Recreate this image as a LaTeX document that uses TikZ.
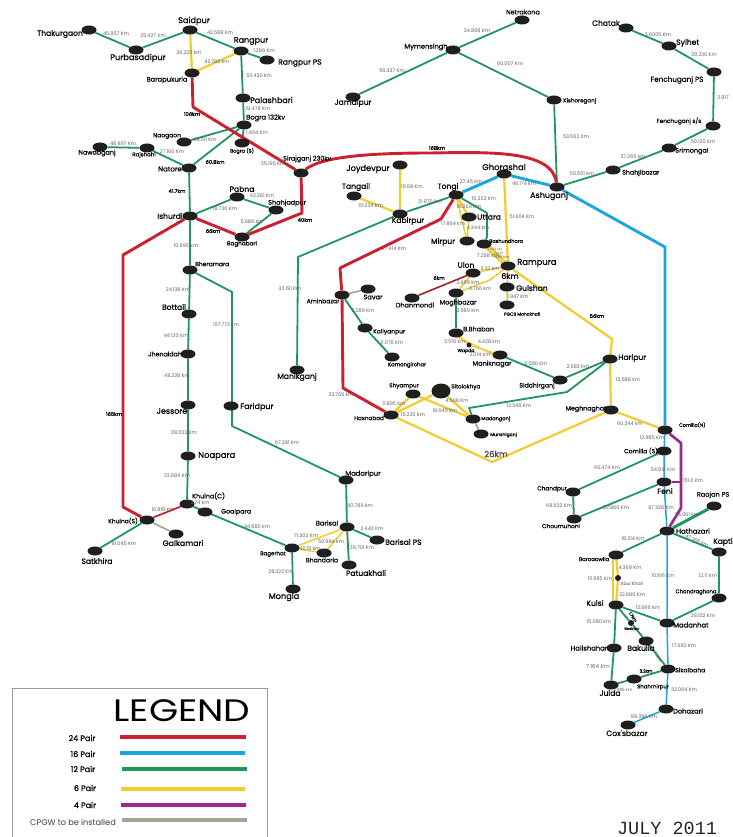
\documentclass[tikz,border=0pt]{standalone}
\usepackage{fontspec}
\setmainfont{Poppins}
\newfontfamily\lblfont[FakeBold=0.6]{Poppins}
\newfontfamily\kmbold[FakeBold=0.8]{Poppins}
\newfontfamily\julyfont{Liberation Mono}
\usetikzlibrary{shapes.geometric,backgrounds}
\tikzset{
  dotn/.style={ellipse,fill=black!88,inner sep=0pt,minimum width=15pt,minimum height=9pt},
  stnlabel/.style={inner sep=0pt,text=black,font=\lblfont},
  kmlabel/.style={inner sep=0pt,text=black!62,font=\fontsize{5}{6}\selectfont},
  kmb/.style={inner sep=0pt,text=black,font=\kmbold\fontsize{5.2}{6}\selectfont},
  redl/.style={draw=cred,line width=2.9pt,line join=round},
  redt/.style={draw=cred,line width=1.7pt},
  bluel/.style={draw=cblue,line width=2.9pt,line join=round},
  bluet/.style={draw=cblue,line width=1.5pt,line join=round},
  greenl/.style={draw=cgreen,line width=1.8pt,line join=round},
  yell/.style={draw=cyel,line width=2.2pt,line join=round},
  yelt/.style={draw=cyel,line width=1.5pt,line join=round},
  purl/.style={draw=cpur,line width=2.7pt,line join=round},
  grayl/.style={draw=cgray,line width=1.6pt},
  legline/.style={line width=4pt},
  legtext/.style={inner sep=0pt,font=\lblfont\fontsize{8}{9}\selectfont}
}
\definecolor{cred}{HTML}{CC2030}
\definecolor{cblue}{HTML}{1CA4DC}
\definecolor{cgreen}{HTML}{1F9660}
\definecolor{cyel}{HTML}{F2CC2C}
\definecolor{cpur}{HTML}{9A2A88}
\definecolor{cgray}{HTML}{A8A494}
% [size], id, x, y, text, anchor, lx, ly
\newcommand{\stn}[8][7.6]{%
  \node[dotn] (#2) at (#3,#4) {};
  \node[stnlabel,anchor=#6] (#2-l) at (#7,#8) {\fontsize{#1}{#1}\selectfont #5};
}
\newcommand{\km}[3]{\node[kmlabel] at (#1,#2) {#3};}
\newcommand{\kb}[3]{\node[kmb] at (#1,#2) {#3};}
\begin{document}
\begin{tikzpicture}[x=1pt,y=-1pt]
\useasboundingbox (0,0) rectangle (732,837);
\stn{thak}{89}{30}{Thakurgaon}{center}{60}{34}
\stn[8.2]{purb}{136}{50}{Purbasadipur}{center}{138}{58}
\stn[8.2]{said}{190}{30}{Saidpur}{center}{194}{21}
\stn[8]{rang}{241}{51}{Rangpur}{center}{251}{41}
\stn{rangps}{267}{60}{Rangpur PS}{west}{278}{63}
\stn[6.7]{bara}{192}{73}{Barapukuria}{center}{167}{80}
\stn[8]{pala}{243}{98}{Palashbari}{west}{250}{100}
\stn[6.7]{bog}{244}{125}{Bogra 132kv}{west}{246}{118}
\stn[5]{bogs}{242}{143}{Bogra (S)}{center}{242}{151}
\stn[6]{naog}{184}{142}{Naogaon}{center}{167}{136}
\stn[5.5]{rajs}{147}{148}{Rajshahi}{center}{144}{155}
\stn[6.4]{nawa}{100}{147}{Nawabganj}{center}{97}{153}
\stn[7]{nato}{189}{168}{Natore}{center}{170}{169}
\stn[6.4]{sira}{301}{173}{Sirajganj 230kv}{west}{283}{159}
\stn{pabn}{237}{197}{Pabna}{center}{242}{189}
\stn[6.5]{shah}{276}{210}{Shahjadpur}{west}{268}{203}
\stn{ishu}{190}{216}{Ishurdi}{center}{170}{216}
\stn[5.7]{bagh}{242}{237}{Baghabari}{center}{242}{244}
\stn[6]{bher}{190}{270}{Bheramara}{west}{195}{264}
\stn{bott}{189}{314}{Bottail}{center}{174}{307}
\stn[6.3]{jhen}{188}{354}{Jhenaidah}{center}{165}{354}
\stn[8]{jess}{188}{405}{Jessore}{center}{172}{411}
\stn[8]{fari}{231}{406}{Faridpur}{west}{240}{407}
\stn[8.4]{noap}{188}{456}{Noapara}{west}{198}{456}
\stn[6.4]{khuc}{187}{504}{Khulna(C)}{west}{192}{496}
\stn[6.3]{goal}{205}{512}{Goalpara}{west}{221}{512}
\stn[6]{khus}{147}{520}{Khulna(S)}{center}{123}{521}
\stn[7.8]{galk}{176}{534}{Galkamari}{center}{183}{543}
\stn{satk}{95}{551}{Satkhira}{center}{97}{561}
\stn[5.5]{bage}{292}{548}{Bagerhat}{center}{273}{554}
\stn[8.2]{mong}{293}{589}{Mongla}{center}{284}{597}
\stn[6.7]{bari}{347}{527}{Barisal}{center}{327}{523}
\stn{barips}{377}{540}{Barisal PS}{west}{385}{542}
\stn{patu}{349}{565}{Patuakhali}{center}{366}{573}
\stn[6.2]{bhan}{324}{553}{Bhandaria}{center}{322}{560}
\stn[6.8]{mada}{346}{480}{Madaripur}{center}{363}{474}
\stn{mani}{297}{370}{Manikganj}{center}{297}{377}
\stn[6]{amin}{342}{295}{Aminbazar}{center}{323}{301}
\stn[6.6]{sava}{368}{289}{Savar}{center}{373}{297}
\stn[6]{kall}{365}{328}{Kallyanpur}{west}{373}{332}
\stn[5.3]{kamo}{392}{357}{Kamongirchar}{center}{407}{365}
\stn[6.5]{dhan}{412}{298}{Dhanmondi}{center}{415}{305}
\stn{ulon}{473}{273}{Ulon}{center}{466}{265}
\stn[6.5]{mogh}{456}{293}{Moghbazar}{center}{458}{303}
\stn[6.5]{bbha}{456}{333}{B.Bhaban}{west}{463}{329}
\stn[6.5]{mank}{500}{355}{Maniknagar}{center}{492}{364}
\stn[6.2]{sidd}{560}{380}{Siddhirganj}{center}{537}{386}
\stn{hari}{610}{359}{Haripur}{west}{618}{358}
\stn[6.3]{megh}{611}{410}{Meghnaghat}{center}{586}{409}
\stn[5.7]{shya}{413}{394}{Shyampur}{center}{404}{386}
\node[dotn,minimum width=19pt,minimum height=15pt] (sito) at (441,391) {};
\node[stnlabel,anchor=west] (sito-l) at (451,387) {\fontsize{5.7}{6}\selectfont Sitolokhya};
\stn[5]{mdng}{473}{419}{Madanganj}{west}{481}{419}
\stn[4.6]{muns}{481}{434}{Munshiganj}{west}{490}{435}
\stn[5.7]{hasn}{391}{415}{Hasnabad}{center}{369}{418}
\stn{tong}{456}{195}{Tongi}{center}{448}{187}
\stn[8.4]{ghor}{504}{174}{Ghorashal}{center}{504}{167}
\stn[8]{ashu}{557}{187}{Ashuganj}{center}{549}{196}
\stn{utta}{469}{217}{Uttara}{west}{477}{217}
\stn{mirp}{467}{241}{Mirpur}{center}{443}{242}
\stn[5]{bash}{484}{244}{Bashundhara}{west}{489}{241}
\stn[8.4]{ramp}{508}{266}{Rampura}{west}{517}{263}
\stn{guls}{507}{287}{Gulshan}{west}{516}{288}
\node[dotn] (pgcb) at (507,305) {};
\node[inner sep=0pt,font=\lblfont\fontsize{4.4}{5}\selectfont] (pgcb-l) at (522,314) {PGCB Mohakhali};
\stn{kabi}{400}{214}{Kabirpur}{center}{408}{221}
\stn{tang}{354}{196}{Tangail}{center}{356}{187}
\stn[8.2]{joyd}{400}{165}{Joydevpur}{center}{368}{169}
\stn{jama}{353}{97}{Jamalpur}{center}{353}{103}
\stn[6.7]{myme}{453}{50}{Mymensingh}{center}{426}{47}
\stn[6.5]{netr}{522}{20}{Netrakona}{center}{523}{12}
\stn[5.6]{kish}{554}{100}{Kishoreganj}{west}{563}{101}
\stn{chat}{626}{28}{Chatak}{center}{606}{23}
\stn{sylh}{669}{46}{Sylhet}{west}{676}{43}
\stn[7.2]{fenp}{714}{72}{Fenchuganj PS}{center}{677}{80}
\stn[5.8]{fens}{713}{126}{Fenchuganj s/s}{center}{679}{121}
\stn[6.5]{srim}{669}{148}{Srimongal}{west}{675}{151}
\stn[6.3]{shjb}{613}{170}{Shahjibazar}{west}{622}{173}
\stn[4.8]{comn}{665}{430}{Comilla(N)}{west}{679}{425}
\stn[6]{coms}{664}{451}{Comilla (S)}{center}{641}{451}
\stn{feni}{664}{482}{Feni}{center}{665}{491}
\stn[7]{hath}{667}{531}{Hathazari}{west}{676}{531}
\stn[6.6]{raoj}{714}{506}{Raojan PS}{center}{713}{495}
\stn{kapt}{719}{552}{Kapti}{west}{713}{542}
\stn[5.8]{chan}{573}{492}{Chandpur}{center}{552}{489}
\stn[5.8]{chou}{574}{519}{Choumuhoni}{center}{561}{526}
\stn[5.4]{baro}{616}{555}{Baroaowlia}{center}{594}{559}
\stn{kuls}{616}{605}{Kulsi}{center}{595}{603}
\stn[5.3]{chgh}{719}{598}{Chandraghona}{center}{696}{592}
\stn[6.8]{madn}{667}{623}{Madanhat}{west}{673}{625}
\stn{baku}{646}{641}{Bakulia}{center}{641}{648}
\stn[6.8]{hali}{614}{648}{Halishahar}{center}{589}{648}
\stn[6.1]{sika}{668}{669}{Sikalbaha}{west}{675}{670}
\stn[5.4]{shmi}{634}{679}{Shahmirpur}{center}{653}{687}
\stn{juld}{611}{685}{Julda}{center}{610}{693}
\stn[6.7]{doha}{666}{709}{Dohazari}{west}{673}{711}
\stn{coxs}{628}{725}{Cox'sbazar}{center}{627}{733}
% small dots
\node[dotn,minimum width=5pt,minimum height=5pt] (wapd) at (469,345) {};
\node[inner sep=0pt,font=\lblfont\fontsize{4.6}{5}\selectfont] (wapd-l) at (466,351) {Wapda};
\node[dotn,minimum width=6pt,minimum height=6pt] (abul) at (618,578) {};
\node[inner sep=0pt,text=black!70,font=\fontsize{4.6}{5}\selectfont] (abul-l) at (632,584) {Abul Khair};
\node[dotn,minimum width=6pt,minimum height=6pt] (nasi) at (631,623) {};
\node[inner sep=0pt,font=\lblfont\fontsize{3.6}{4}\selectfont] (nasi-l) at (632,629) {Nasirpur};
% bends
\coordinate (r1) at (193,107);
\coordinate (r2) at (302,213);
\coordinate (r3) at (123,255);
\coordinate (r4) at (123,507);
\coordinate (r5) at (441,219);
\coordinate (r6) at (340,268);
\coordinate (r7) at (343,388);
\coordinate (g1) at (232,292);
\coordinate (g2) at (232,426);
\coordinate (g3) at (298,257);
\coordinate (g4) at (487,213);
\coordinate (g5) at (487,237);
\coordinate (g6) at (567,392);
\coordinate (g7) at (469,408);
\coordinate (b1) at (665,247);
\coordinate (y1) at (492,462);
\coordinate (y2) at (612,339);
\coordinate (y3) at (490,280);
\coordinate (p1) at (681,443);
\coordinate (p2) at (681,508);
\coordinate (mb) at (680,482);
\begin{pgfonlayer}{background}
% 12 pair
\draw[greenl] (thak)--(purb)--(said)--(rang)--(rangps);
\draw[greenl] (rang)--(pala)--(bog)--(bogs);
\draw[greenl] (naog)--(bog)--(nato);
\draw[greenl] (nawa)--(rajs)--(nato)--(ishu)--(bher)--(bott)--(jhen)--(jess)--(noap)--(khuc);
\draw[greenl] (bher)--(g1)--(g2)--(mada)--(bari)--(barips);
\draw[greenl] (bari)--(patu);
\draw[greenl] (ishu)--(pabn)--(shah)--(bagh);
\draw[greenl] (khuc)--(bage)--(mong);
\draw[greenl] (satk)--(khus);
\draw[greenl] (tong)--(kabi)--(g3)--(mani);
\draw[greenl] (amin)--(kall)--(kamo);
\draw[greenl] (tong)--(g4)--(g5)--(bash);
\draw[greenl] (mogh)--(bbha);
\draw[greenl] (mank)--(sidd)--(hari)--(g6)--(g7)--(mdng);
\draw[greenl] (jama)--(myme)--(netr);
\draw[greenl] (myme)--(kish)--(ashu)--(shjb)--(srim)--(fens)--(fenp)--(sylh)--(chat);
\draw[greenl] (coms)--(chan)--(chou)--(feni);
\draw[greenl] (baro)--(hath)--(kapt)--(chgh)--(madn)--(kuls);
\draw[greenl,line width=3pt] (hath)--(raoj);
\draw[greenl] (kuls)--(nasi)--(baku)--(sika);
\draw[greenl] (kuls)--(hali)--(juld)--(shmi)--(sika);
% 6 pair
\draw[yell] (said)--(bara)--(rang);
\draw[yell] (joyd)--(kabi)--(tang);
\draw[yell] (ghor)--(ramp);
\draw[yelt] (tong)--(mirp)--(utta)--(tong);
\draw[yell] (tong)--(utta);
\draw[yell] ([yshift=-2pt]bash.center)--([yshift=-2pt]ramp.center);
\draw[yell] ([yshift=2pt]bash.center)--([yshift=2pt]ramp.center);
\draw[yelt] (ramp)--(guls)--(pgcb);
\draw[yelt] (ramp)--(ulon)--(mogh)--(y3)--(ramp);
\draw[yell] (ramp)--(y2)--(hari)--(megh)--(y1)--(hasn)--(shya)--(mdng);
\draw[yell] (hasn)--(sito)--(mdng);
\draw[yell] (megh)--(comn);
\draw[yelt] (bage)--(bari)--(bhan)--(bage);
\draw[yelt] (bbha)--(wapd)--(mank);
\draw[yelt] ([yshift=-3pt]bbha.center)--([yshift=-3pt]mank.center);
\draw[yell] ([xshift=-3pt]baro.center)--([xshift=-3pt]kuls.center);
\draw[yell] (baro)--(abul)--(kuls);
% 16 pair
\draw[bluel] (tong)--(ghor)--(ashu)--(b1)--(comn);
\draw[bluet] (comn)--(coms)--(feni)--(hath)--(madn)--(sika)--(doha)--(coxs);
% 24 pair
\draw[redl] (bara)--(r1)--(sira)--(r2)--(bagh)--(ishu)--(r3)--(r4)--(khus);
\draw[redt] (khus)--(khuc);
\draw[redl] (sira) .. controls (320,158) and (360,153) .. (430,153) .. controls (490,152) and (552,150) .. (ashu);
\draw[redl] (tong)--(r5)--(r6)--(amin)--(r7)--(hasn);
\draw[cred!85!black,line width=1.6pt] (ulon)--(dhan);
% 4 pair
\draw[purl] (comn)--(p1)--(p2)--(hath);
\draw[cpur,line width=1.3pt] (feni)--(mb);
% OPGW
\draw[grayl] (amin)--(sava);
\draw[grayl] (khus)--(galk);
\draw[grayl] (mdng)--(muns);
\end{pgfonlayer}
% km labels
\km{116}{34}{45.957 Km}\km{153}{36}{35.427 Km}\km{220}{33}{42.588 Km}\km{189}{53}{36.225 km}
\km{217}{62}{42.786 km}\km{264}{51}{1.286 Km}\km{259}{76}{53.430 km}\kb{192}{114}{106km}
\km{258}{109}{51.478 Km}\km{257}{133}{1.404 Km}\km{205}{140}{48.511 Km}\km{123}{144}{48.997 Km}
\km{172}{152}{27.160 Km}\km{273}{164}{35.196 km}\kb{215}{162}{60.8km}\kb{177}{191}{41.7km}
\km{262}{196}{42.361 Km}\km{225}{209}{18.720 Km}\km{252}{222}{5.686 km}\kb{213}{231}{66km}
\kb{305}{220}{40km}\km{186}{246}{10.695 km}
\km{178}{290}{24.138 Km}\km{176}{336}{44.120 Km}\km{177}{376}{49.228 Km}\km{184}{433}{28.032 Km}
\km{177}{476}{23.684 Km}\km{226}{325}{107.772 km}\km{290}{289}{33.191 Km}\kb{114}{414}{165km}
\km{287}{443}{67.281 Km}\km{163}{510}{10.819 km}\km{200}{503}{2.74 km}\km{124}{544}{18.045 Km}
\km{257}{527}{44.680 km}\km{306}{536}{71.303 Km}\km{310}{549}{40.51 km}\km{331}{542}{50.984 km}
\km{360}{506}{60.786 km}\km{372}{529}{2.443 Km}\km{362}{548}{39.701 Km}\km{281}{572}{28.322 Km}
\km{477}{31}{34.808 Km}\km{510}{64}{60.007 Km}\km{392}{71}{56.337 Km}\km{576}{137}{53.562 Km}
\kb{437}{148}{168km}\km{658}{35}{3.6005 Km}\km{704}{55}{29.230 Km}\km{723}{98}{3.917}
\km{703}{142}{50.120 Km}\km{633}{157}{37.265 km}\km{582}{174}{55.501 km}\km{524}{184}{46.174 km}
\km{471}{182}{27.46 km}\km{412}{187}{15.68 Km}\km{371}{206}{51.234 Km}\km{430}{202}{21.970 km}
\km{484}{199}{10.352 Km}\km{469}{207}{16.064 Km}\km{453}{224}{17.864 km}\km{522}{217}{51.604 Km}
\km{478}{228}{4.344 km}
\km{394}{249}{27.414 Km}\kb{439}{278}{6km}\km{363}{311}{5.289 Km}\km{392}{343}{11.076 Km}
\km{468}{283}{2.469 Km}\km{490}{269}{3.33 km}\km{480}{289}{4.766 km}\km{468}{311}{3.989 Km}
\km{455}{342}{2.510 Km}\km{489}{342}{4.428 km}\km{480}{355}{2.014 km}\km{488}{256}{7.298 km}
\km{518}{297}{1.947 Km}
\node[kmb,font=\kmbold\fontsize{8}{9}\selectfont] at (510,276) {6km};
\node[kmlabel,font=\fontsize{3.2}{4}\selectfont] at (495,249) {6.069 km};
\node[kmlabel,font=\fontsize{3.2}{4}\selectfont] at (499,253) {0.445};
\node[kmlabel,font=\fontsize{3.6}{4}\selectfont] at (502,257) {4.96 km};
\km{536}{364}{11.060 Km}\km{578}{367}{2.583 Km}\km{628}{380}{12.588 km}\km{341}{395}{23.765 km}
\km{394}{404}{11.895 Km}\km{413}{415}{15.225 Km}\km{457}{401}{4.568 Km}\km{445}{411}{18.645 Km}
\km{519}{406}{12.348 Km}\km{630}{424}{60.244 km}\kb{597}{316}{56km}
\node[kmb,font=\lblfont\fontsize{8.5}{9}\selectfont,text=black!70] at (496,454) {26km};
\km{652}{438}{12.985 Km}\km{607}{468}{60.474 Km}\km{663}{470}{54.912 Km}\km{693}{481}{151.0 Km}
\km{559}{506}{69.932 Km}\km{616}{508}{52.866 Km}\km{661}{508}{87.326 Km}\km{687}{515}{24.061 km}
\node[kmlabel,rotate=-25] at (697,541) {47.265 km};
\km{633}{539}{18.314 Km}\km{630}{568}{4.369 Km}\km{600}{579}{15.985 Km}\km{663}{576}{10.916 Km}
\km{708}{576}{12.11 Km}\km{632}{595}{32.880 Km}\km{648}{608}{12.696 Km}\km{703}{616}{28.102 Km}
\km{599}{622}{15.080 km}
\node[kmb,rotate=-55,font=\kmbold\fontsize{4.2}{5}\selectfont] at (633,617) {1.7km};
\km{684}{646}{17.682 Km}
\node[kmlabel,font=\fontsize{5.6}{6}\selectfont] at (598,666) {7.164 Km};
\node[kmlabel,rotate=-65,font=\fontsize{4}{5}\selectfont] at (658,657) {7.5km};
\node[kmb,font=\kmbold\fontsize{4.4}{5}\selectfont] at (646,671) {3.2km};
\node[kmlabel,font=\fontsize{4.2}{5}\selectfont] at (623,690) {2.985 km};
\km{684}{690}{32.084 Km}\km{644}{717}{89.386 Km}
% legend
\node[draw=black!40,line width=0.8pt,minimum width=255pt,minimum height=160pt,anchor=north west,inner sep=0pt] (legbox) at (12,688) {};
\node[inner sep=0pt,xscale=1.21,font=\fontsize{31}{32}\selectfont] (legt) at (182,711) {LEGEND};
\node[legtext] (l1) at (82,738) {24 Pair};
\node[legtext] (l2) at (83,754) {16 Pair};
\node[legtext] (l3) at (83,769) {12 Pair};
\node[legtext] (l4) at (85,788) {6 Pair};
\node[legtext] (l5) at (85,805) {4 Pair};
\node[inner sep=0pt,text=black!75,font=\fontsize{8.2}{9}\selectfont] (l6) at (73,822) {CPGW to be installed};
\coordinate (a1) at (120,737);\coordinate (a2) at (246,737);
\coordinate (b3) at (120,753);\coordinate (b4) at (245,753);
\coordinate (c1) at (122,769);\coordinate (c2) at (247,769);
\coordinate (d1) at (121,789);\coordinate (d2) at (245,789);
\coordinate (e1) at (121,805);\coordinate (e2) at (246,805);
\coordinate (f1) at (122,820);\coordinate (f2) at (247,820);
\draw[legline,cred] (a1)--(a2);
\draw[legline,cblue] (b3)--(b4);
\draw[legline,cgreen] (c1)--(c2);
\draw[legline,cyel] (d1)--(d2);
\draw[legline,cpur] (e1)--(e2);
\draw[legline,cgray] (f1)--(f2);
\node[inner sep=0pt,text=black!85,font=\julyfont\fontsize{18.5}{19}\selectfont] (july) at (667,828) {JULY 2011};
\end{tikzpicture}
\end{document}
